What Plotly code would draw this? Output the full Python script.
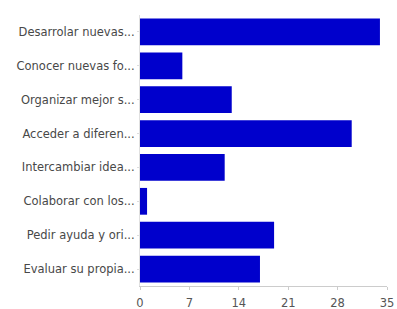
import plotly.graph_objects as go

categories = [
    "Desarrolar nuevas...",
    "Conocer nuevas fo...",
    "Organizar mejor s...",
    "Acceder a diferen...",
    "Intercambiar idea...",
    "Colaborar con los...",
    "Pedir ayuda y ori...",
    "Evaluar su propia...",
]
values = [34, 6, 13, 30, 12, 1, 19, 17]
x_ticks = [0, 7, 14, 21, 28, 35]

fig = go.Figure(go.Bar(
    x=values, y=categories, orientation="h",
    marker=dict(color="#0000cc", line=dict(width=0)),
))
fig.update_layout(
    width=397, height=309,
    margin=dict(l=140, r=10, t=15, b=23),
    paper_bgcolor="white", plot_bgcolor="white",
    bargap=0.21, showlegend=False,
    font=dict(family="DejaVu Sans, Arial, sans-serif", size=10, color="#444"),
)
fig.update_xaxes(
    range=[0, 35], tickvals=x_ticks, showgrid=False, zeroline=False,
    showline=True, linecolor="#cccccc", linewidth=1,
    ticks="outside", ticklen=3, tickcolor="#cccccc",
    ticklabelstandoff=3, automargin=False,
    tickfont=dict(size=11.5, color="#555"),
)
fig.update_yaxes(
    autorange="reversed", showgrid=False, zeroline=False,
    showline=True, linecolor="#e0e0e0", linewidth=1,
    ticks="outside", ticklen=2, tickcolor="#dddddd", automargin=False,
    tickfont=dict(size=11.5, color="#484848"),
)
fig.write_html("out.html", config={"displayModeBar": False},
               post_script="document.body.style.margin='0';")
